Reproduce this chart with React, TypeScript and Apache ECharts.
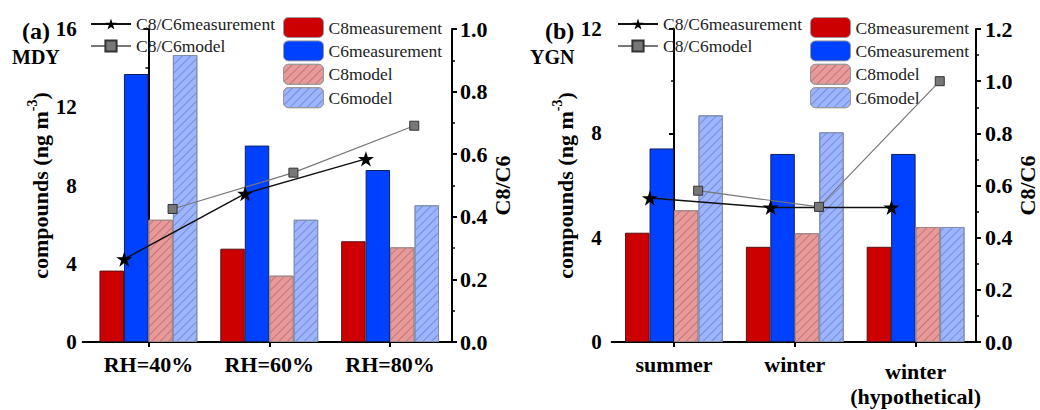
import React, { useEffect, useRef } from "react";
import * as echarts from "echarts";

const categoriesA = ["RH=40%", "RH=60%", "RH=80%"];
const c8MeasA = [3.65, 4.77, 5.15];
const c6MeasA = [13.7, 10.04, 8.79];
const c8ModelA = [6.25, 3.39, 4.84];
const c6ModelA = [14.67, 6.25, 6.99];
const ratioMeasA = [0.265, 0.474, 0.585];
const ratioModelA = [0.425, 0.541, 0.691];

const categoriesB = ["summer", "winter", "winter\n(hypothetical)"];
const c8MeasB = [4.19, 3.65, 3.65];
const c6MeasB = [7.42, 7.21, 7.21];
const c8ModelB = [5.05, 4.17, 4.41];
const c6ModelB = [8.69, 8.04, 4.41];
const ratioMeasB = [0.552, 0.516, 0.516];
const ratioModelB = [0.58, 0.518, 1.0];

const leftTicksA = [0, 16, 4];
const rightTicksA = [0, 1, 0.2];
const leftTicksB = [0, 12, 4];
const rightTicksB = [0, 1.2, 0.2];

const FONT = "'Liberation Serif', 'Times New Roman', serif";
const STAR =
  "path://M100 0L122.45 69.1L195.1 69.1L136.3 111.8L158.8 180.9L100 138.2L41.2 180.9L63.7 111.8L4.9 69.1L77.55 69.1Z";

const NAMES = {
  rm: "C8/C6measurement",
  rmod: "C8/C6model",
  c8m: "C8measurement",
  c6m: "C6measurement",
  c8mod: "C8model",
  c6mod: "C6model",
};

function hatch(color: string) {
  return {
    symbol: "rect",
    symbolSize: 1,
    dashArrayX: [1, 0],
    dashArrayY: [1, 5],
    rotation: -Math.PI / 4,
    color,
  };
}

function barSeries(name: string, data: number[], xi: number, yi: number, color: string, border: string, decal?: any) {
  return {
    type: "bar",
    name,
    xAxisIndex: xi,
    yAxisIndex: yi,
    data,
    barGap: "0%",
    barCategoryGap: "19%",
    itemStyle: { color, borderColor: border, borderWidth: 1, ...(decal ? { decal } : {}) },
  };
}

function lineSeries(name: string, data: number[], xi: number, yi: number, offset: number, measurement: boolean) {
  return {
    type: "line",
    name,
    xAxisIndex: xi,
    yAxisIndex: yi,
    data: data.map((v, i) => [i + offset, v]),
    symbol: measurement ? STAR : "rect",
    symbolSize: measurement ? 16 : 9,
    symbolKeepAspect: true,
    lineStyle: { color: measurement ? "#111" : "#777", width: measurement ? 1.5 : 1.2 },
    itemStyle: measurement
      ? { color: "#000" }
      : { color: "#777", borderColor: "#333", borderWidth: 1 },
    z: 5,
  };
}

function yAxis(
  grid: number,
  ticks: number[],
  pos: "left" | "right",
  name: any,
  nameGap: number,
  decimals: boolean,
  fontSize: number,
  offset: number,
  margin: number
) {
  return {
    type: "value",
    gridIndex: grid,
    position: pos,
    offset,
    min: ticks[0],
    max: ticks[1],
    interval: ticks[2],
    splitLine: { show: false },
    axisLine: { show: true, lineStyle: { color: "#000", width: 2 } },
    axisTick: { show: true, inside: false, length: 5, lineStyle: { color: "#000", width: 2 } },
    minorTick: { show: true, splitNumber: 2, length: 3, lineStyle: { color: "#000", width: 1.5 } },
    axisLabel: {
      color: "#000",
      fontFamily: FONT,
      fontWeight: "bold",
      fontSize,
      margin,
      formatter: (v: number) => (decimals ? v.toFixed(1) : String(v)),
    },
    name,
    nameLocation: "middle",
    nameRotate: 90,
    nameGap,
    nameTextStyle: {
      color: "#000",
      fontFamily: FONT,
      fontWeight: "bold",
      fontSize: 22,
      rich: {
        a: { fontFamily: FONT, fontWeight: "bold", fontSize: 22, color: "#000", verticalAlign: "bottom", lineHeight: 26 },
        s: { fontFamily: FONT, fontWeight: "bold", fontSize: 14, color: "#000", verticalAlign: "top", lineHeight: 26 },
      },
    },
  };
}

function catAxis(grid: number, cats: string[]) {
  return {
    type: "category",
    gridIndex: grid,
    data: cats,
    axisLine: { show: false },
    axisTick: { show: true, alignWithLabel: true, length: 5, lineStyle: { color: "#000", width: 2 } },
    axisLabel: {
      color: "#000",
      fontFamily: FONT,
      fontWeight: "bold",
      fontSize: 22,
      margin: 10,
      lineHeight: 25,
      interval: 0,
      formatter: (v: string) => (v.includes("\n") ? `{e| }\n${v}` : v),
      rich: { e: { fontSize: 2, lineHeight: 7 } },
    },
  };
}

function hiddenX(grid: number) {
  return { type: "value", gridIndex: grid, min: -0.5, max: 2.5, show: false };
}

function frameX(grid: number) {
  return {
    type: "value",
    gridIndex: grid,
    min: 0,
    max: 1,
    axisLine: { show: true, onZero: false, lineStyle: { color: "#000", width: 2 } },
    axisTick: { show: false },
    axisLabel: { show: false },
    splitLine: { show: false },
  };
}

function frameY(grid: number) {
  return { type: "value", gridIndex: grid, min: 0, max: 1, show: false };
}

const legendText = { fontFamily: FONT, fontSize: 17.5, color: "#222", lineHeight: 20 };

function lineLegend(left: number) {
  return {
    left,
    top: 14,
    orient: "vertical",
    data: [NAMES.rm, NAMES.rmod],
    itemWidth: 40,
    itemHeight: 14,
    itemGap: 2,
    padding: 0,
    textStyle: legendText,
  };
}

function barLegend(left: number) {
  return {
    left,
    top: 17,
    orient: "vertical",
    data: [NAMES.c8m, NAMES.c6m, NAMES.c8mod, NAMES.c6mod],
    itemWidth: 40,
    itemHeight: 20,
    itemGap: 2.4,
    padding: 0,
    textStyle: legendText,
    itemStyle: { borderColor: "#999", borderWidth: 1 },
  };
}

const yName = "{a|compounds (ng m}{s|-3}{a|)}";

export default function App() {
  const ref = useRef<HTMLDivElement>(null);
  useEffect(() => {
    if (!ref.current) return;
    const chart = echarts.init(ref.current, null, { renderer: "svg" });
    const red = "#cc0000";
    const blue = "#0040ff";
    const redM = "#e89a9a";
    const blueM = "#9db4ff";
    const option: any = {
      animation: false,
      backgroundColor: "#fff",
      textStyle: { fontFamily: FONT },
      grid: [
        { left: 88, right: 589.5, top: 29, bottom: 68 },
        { left: 613.6, right: 64, top: 29, bottom: 68 },
        { left: 82.7, right: 588, top: 29, bottom: 68 },
        { left: 611.7, right: 64, top: 29, bottom: 68 },
      ],
      xAxis: [catAxis(0, categoriesA), hiddenX(0), catAxis(1, categoriesB), hiddenX(1), frameX(2), frameX(3)],
      yAxis: [
        yAxis(0, leftTicksA, "left", yName, 25, false, 21, 5.3, 6),
        yAxis(0, rightTicksA, "right", "C8/C6", 39, true, 22, 1.5, 8),
        yAxis(1, leftTicksB, "left", yName, 31, false, 21, 1.9, 10),
        yAxis(1, rightTicksB, "right", "C8/C6", 40, true, 22, 0, 9),
        frameY(2),
        frameY(3),
      ],
      legend: [lineLegend(90), barLegend(283), lineLegend(617), barLegend(810)],
      graphic: [
        { type: "text", left: 22, top: 19, style: { text: "(a)", font: `bold 24px ${FONT}`, fill: "#000" } },
        { type: "text", left: 12, top: 47, style: { text: "MDY", font: `bold 20px ${FONT}`, fill: "#000" } },
        { type: "text", left: 545, top: 19, style: { text: "(b)", font: `bold 24px ${FONT}`, fill: "#000" } },
        { type: "text", left: 530, top: 47, style: { text: "YGN", font: `bold 20px ${FONT}`, fill: "#000" } },
      ],
      series: [
        barSeries(NAMES.c8m, c8MeasA, 0, 0, red, "#5a1010"),
        barSeries(NAMES.c6m, c6MeasA, 0, 0, blue, "#102060"),
        barSeries(NAMES.c8mod, c8ModelA, 0, 0, redM, "#a08888", hatch("rgba(150,70,70,0.45)")),
        barSeries(NAMES.c6mod, c6ModelA, 0, 0, blueM, "#8090b0", hatch("rgba(70,90,170,0.45)")),
        lineSeries(NAMES.rm, ratioMeasA, 1, 1, -0.2, true),
        lineSeries(NAMES.rmod, ratioModelA, 1, 1, 0.2, false),
        barSeries(NAMES.c8m, c8MeasB, 2, 2, red, "#5a1010"),
        barSeries(NAMES.c6m, c6MeasB, 2, 2, blue, "#102060"),
        barSeries(NAMES.c8mod, c8ModelB, 2, 2, redM, "#a08888", hatch("rgba(150,70,70,0.45)")),
        barSeries(NAMES.c6mod, c6ModelB, 2, 2, blueM, "#8090b0", hatch("rgba(70,90,170,0.45)")),
        lineSeries(NAMES.rm, ratioMeasB, 3, 3, -0.2, true),
        lineSeries(NAMES.rmod, ratioModelB, 3, 3, 0.2, false),
      ],
    };
    chart.setOption(option);
    return () => chart.dispose();
  }, []);
  return (
    <div
      ref={ref}
      style={{ position: "fixed", left: 0, top: 0, width: 1040, height: 410, background: "#fff" }}
    />
  );
}
